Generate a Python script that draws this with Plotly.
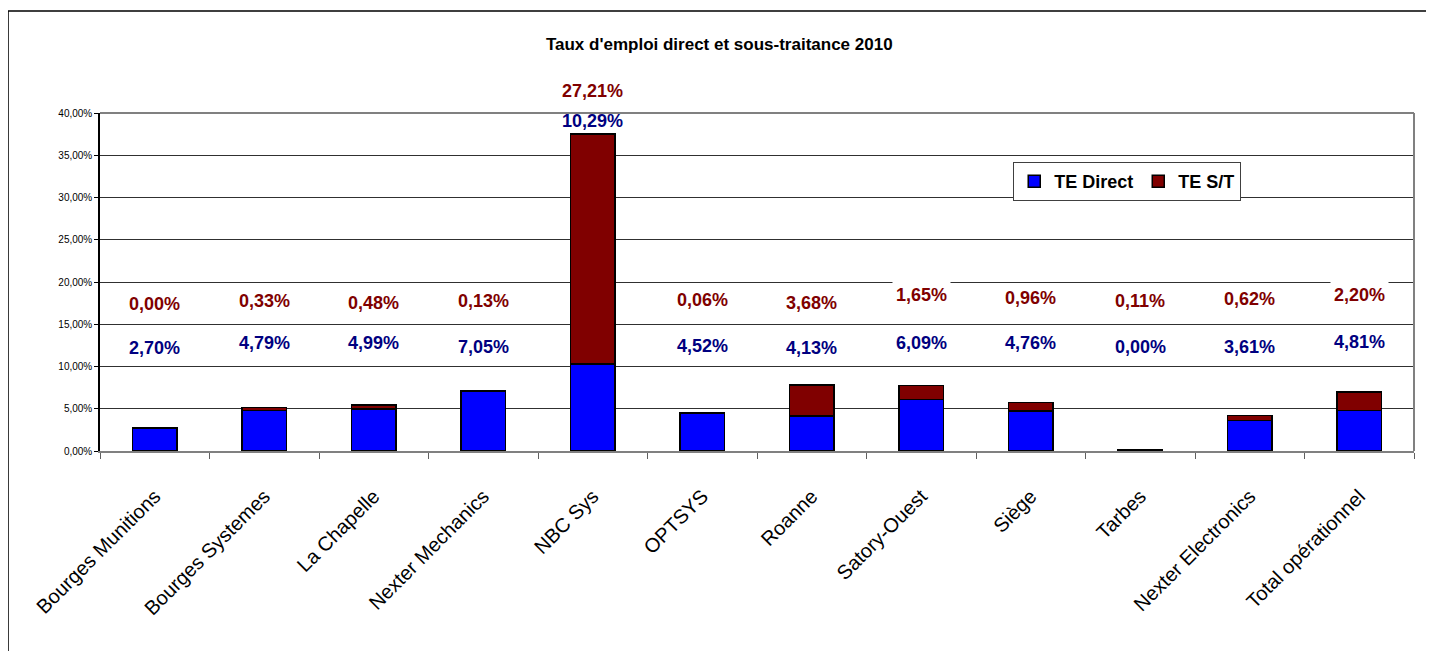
import plotly.graph_objects as go

categories = ["Bourges Munitions", "Bourges Systemes", "La Chapelle", "Nexter Mechanics",
              "NBC Sys", "OPTSYS", "Roanne", "Satory-Ouest", "Siège", "Tarbes",
              "Nexter Electronics", "Total opérationnel"]
te_direct = [2.70, 4.79, 4.99, 7.05, 10.29, 4.52, 4.13, 6.09, 4.76, 0.00, 3.61, 4.81]
te_st = [0.00, 0.33, 0.48, 0.13, 27.21, 0.06, 3.68, 1.65, 0.96, 0.11, 0.62, 2.20]

# label positions (fraction of the plot height) as placed in the original chart
label_y_st = [0.435, 0.445, 0.438, 0.445, 1.066, 0.448, 0.438, 0.461, 0.452, 0.445, 0.450, 0.463]
label_y_direct = [0.305, 0.320, 0.320, 0.308, 0.977, 0.310, 0.305, 0.320, 0.320, 0.308, 0.308, 0.322]

BLUE = "#0000FF"
RED = "#800000"
NAVY = "#000080"
FONT = "Liberation Sans, Arial, sans-serif"

fig = go.Figure()
fig.add_trace(go.Bar(x=categories, y=te_direct, name="TE Direct",
                     marker=dict(color=BLUE, line=dict(color="black", width=1.5))))
fig.add_trace(go.Bar(x=categories, y=te_st, name="TE S/T",
                     marker=dict(color=RED, line=dict(color="black", width=1.5))))

def fmt(v):
    return f"{v:.2f}".replace(".", ",") + "%"

annotations = []
for c, v, ly in zip(categories, te_st, label_y_st):
    annotations.append(dict(x=c, y=ly, xref="x", yref="paper", text=fmt(v), showarrow=False,
                            font=dict(family=FONT, size=18, color=RED, weight="bold"),
                            bgcolor="white", borderpad=3, xanchor="center", yanchor="middle"))
for c, v, ly in zip(categories, te_direct, label_y_direct):
    annotations.append(dict(x=c, y=ly, xref="x", yref="paper", text=fmt(v), showarrow=False,
                            font=dict(family=FONT, size=18, color=NAVY, weight="bold"),
                            xanchor="center", yanchor="middle"))

fig.update_layout(
    width=1434, height=651,
    barmode="stack", bargap=0.59,
    paper_bgcolor="white", plot_bgcolor="white",
    margin=dict(l=92, r=28, t=105, b=208, autoexpand=False),
    separators=", ",
    font=dict(family=FONT, color="black"),
    title=dict(text="<b>Taux d'emploi direct et sous-traitance 2010</b>",
               x=0.496, xref="container", y=1 - 36 / 651, yref="container",
               xanchor="center", yanchor="middle",
               font=dict(family=FONT, size=17, color="black")),
    legend=dict(orientation="h", x=0.695, y=0.855, xanchor="left", yanchor="top",
                bgcolor="white", bordercolor="#404040", borderwidth=1,
                font=dict(family=FONT, size=18, color="black", weight="bold"),
                itemwidth=30, traceorder="normal", tracegroupgap=0),
    showlegend=True,
    annotations=annotations,
    xaxis=dict(type="category", tickangle=-45, tickson="boundaries", ticks="outside",
               ticklen=6, tickcolor="#606060", showline=True, linecolor="#808080",
               linewidth=1.5, showgrid=False, ticklabelstandoff=24,
               tickfont=dict(family=FONT, size=20, color="black")),
    yaxis=dict(range=[0, 40], dtick=5, tickformat=".2f", ticksuffix="%",
               showline=True, linecolor="black", linewidth=1.5, ticks="outside",
               ticklen=4, tickcolor="black", showgrid=True, gridcolor="#303030",
               gridwidth=1, zeroline=False,
               tickfont=dict(family=FONT, size=10, color="black")),
    shapes=[
        dict(type="rect", xref="paper", yref="paper", x0=-0.0700, x1=1.0107,
             y0=-0.65, y1=1.302, line=dict(color="black", width=1.5), layer="below"),
        dict(type="line", xref="paper", yref="paper", x0=0, x1=1, y0=1, y1=1,
             line=dict(color="#808080", width=2)),
        dict(type="line", xref="paper", yref="paper", x0=1, x1=1, y0=0, y1=1,
             line=dict(color="#808080", width=2)),
    ],
)

fig.write_html("out.html")
